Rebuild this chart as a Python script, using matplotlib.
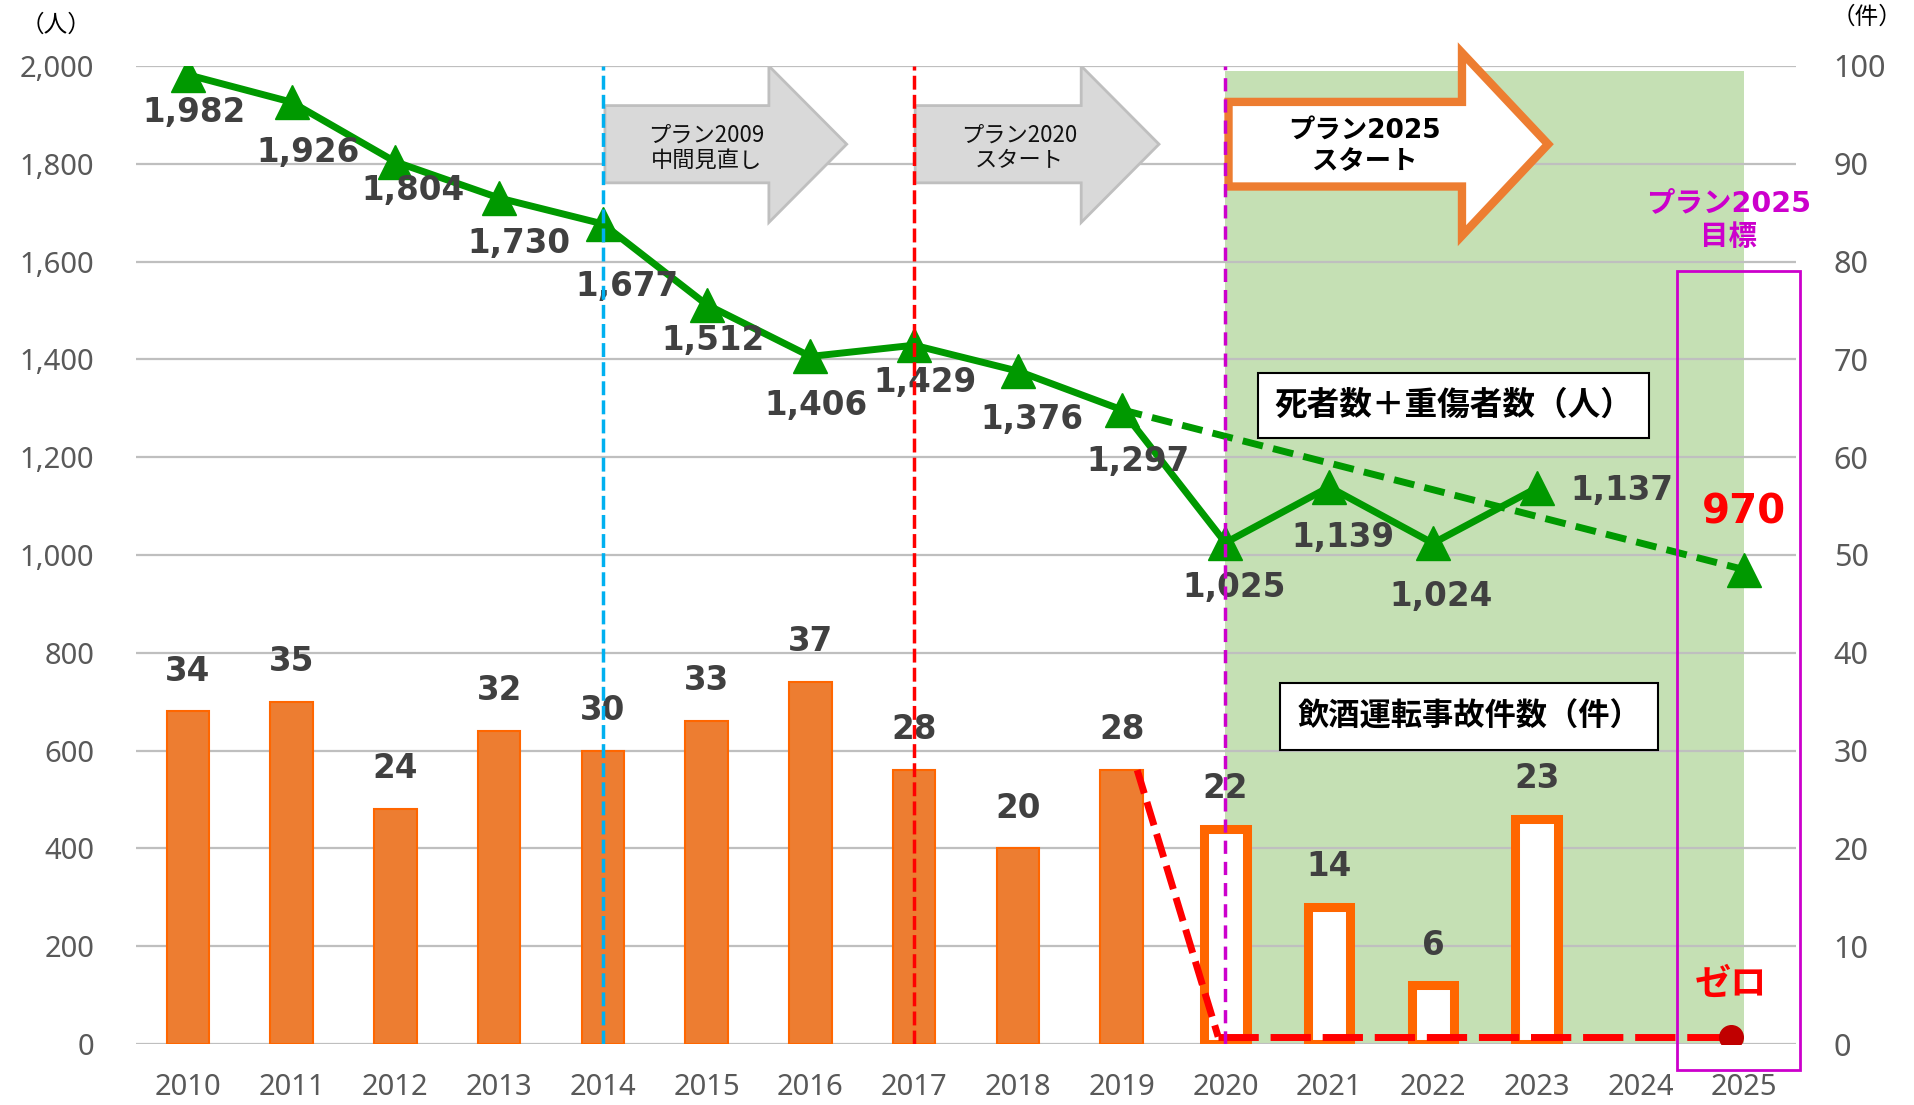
import matplotlib
matplotlib.use('Agg')
import matplotlib.pyplot as plt
from matplotlib.patches import Polygon, Rectangle
import numpy as np

plt.rcParams['font.family'] = ['Noto Sans CJK JP', 'DejaVu Sans']

# ---- data ----
years = ['2010', '2011', '2012', '2013', '2014', '2015', '2016', '2017',
         '2018', '2019', '2020', '2021', '2022', '2023', '2024', '2025']
casualties = [1982, 1926, 1804, 1730, 1677, 1512, 1406, 1429, 1376, 1297,
              1025, 1139, 1024, 1137]          # 死者数＋重傷者数 2010-2023
target_idx = 15                                  # 2025
target_value = 970
trend_x = [9, 15]                                # 2019 -> 2025 目標線
trend_y = [1297, 970]
accidents = [34, 35, 24, 32, 30, 33, 37, 28, 20, 28, 22, 14, 6, 23]  # 飲酒運転事故件数
plan2025_start = 10                              # 2020以降は白抜き
zero_drop_x = [9.15, 9.93]                       # 28件 -> ゼロ への点線
zero_drop_y = [28, 0.75]
zero_line_x = [9.93, 14.87]
zero_line_y = [0.75, 0.75]

# label offsets (points) for the casualty labels
line_label_offsets = [(4.5, -27), (12, -36), (13, -21), (14, -33), (17.6, -45),
                      (4.3, -26), (4.3, -35), (8, -27), (10, -35), (11.5, -37),
                      (6.5, -32), (10, -36), (6, -38), (61, -2)]

GREEN = '#009900'
ORANGE = '#ED7D31'
ORANGE_EDGE = '#FF6600'
LABEL = '#404040'
TICK = '#595959'
MAGENTA = '#CC00CC'

fig = plt.figure(figsize=(19.15, 11.05), dpi=100)
ax = fig.add_axes([0.0710, 0.0552, 0.8669, 0.8851])   # 件数 (右軸)
ax2 = ax.twinx()                                         # 人数 (左軸)
ax.yaxis.tick_right()
ax2.yaxis.tick_left()

x = np.arange(len(years))
ax.set_xlim(-0.5, len(years) - 0.5)
ax.set_ylim(0, 100)
ax2.set_ylim(0, 2000)

# grid
ax.set_yticks(np.arange(0, 101, 10))
ax2.set_yticks(np.arange(0, 2001, 200))
ax.grid(axis='y', color='#BFBFBF', lw=1.6, zorder=0)
ax.set_axisbelow(True)
for a in (ax, ax2):
    for s in a.spines.values():
        s.set_visible(False)

ax.set_xticks(x)
ax.set_xticklabels(years, family='Noto Sans', fontsize=21, color=TICK)
ax.tick_params(axis='x', length=0, pad=21)
ax.tick_params(axis='y', length=0, pad=27, labelsize=22, labelcolor=TICK)
ax2.tick_params(axis='y', length=0, pad=30, labelsize=21, labelcolor=TICK)
for t in ax.get_yticklabels():
    t.set_family('Noto Sans')
ax2.set_yticklabels([f'{v:,}' for v in range(0, 2001, 200)], family='Noto Sans')

# green period shading (2020-2025)
ax.add_patch(Rectangle((plan2025_start, 0), target_idx - plan2025_start, 99.5,
                       facecolor='#C5E0B4', edgecolor='none', zorder=0.5))

# bars
n = len(accidents)
filled = [i for i in range(n) if i < plan2025_start]
hollow = [i for i in range(n) if i >= plan2025_start]
ax.bar([x[i] for i in filled], [accidents[i] for i in filled], width=0.41,
       color=ORANGE, edgecolor=ORANGE_EDGE, lw=1.5, zorder=2)
ax.bar([x[i] for i in hollow], [accidents[i] for i in hollow], width=0.41,
       color='white', edgecolor=ORANGE_EDGE, lw=6.5, zorder=2)
for i, v in enumerate(accidents):
    ax.annotate(str(v), (x[i], v), xytext=(0, 29), textcoords='offset points',
                ha='center', va='center', fontsize=23.5, fontweight='bold',
                color=LABEL, family='DejaVu Sans', zorder=6)

# red zero line
ax.plot(zero_drop_x, zero_drop_y, color='#FF0000', lw=5, ls=(0, (3.5, 1.3)),
        zorder=3, solid_capstyle='butt')
ax.plot(zero_line_x, zero_line_y, color='#FF0000', lw=5, ls=(0, (5.8, 1.7)),
        zorder=3)
ax.plot([zero_line_x[-1]], [zero_line_y[-1]], 'o', color='#C00000', ms=17, zorder=4)
ax.text(14.87, 6.1, 'ゼロ', color='#FF0000', fontsize=26, fontweight='bold',
        ha='center', va='center', zorder=6)

# casualties line
ax2.plot(x[:len(casualties)], casualties, color=GREEN, lw=5, marker='^', ms=24,
         zorder=4)
ax2.plot(trend_x, trend_y, color=GREEN, lw=5, ls=(0, (3, 1.5)), zorder=4)
ax2.plot([target_idx], [target_value], '^', color=GREEN, ms=24, zorder=4)
for i, v in enumerate(casualties):
    ax2.annotate(f'{v:,}', (x[i], v), xytext=line_label_offsets[i],
                 textcoords='offset points', ha='center', va='center',
                 fontsize=23.5, fontweight='bold', color=LABEL,
                 family='DejaVu Sans', zorder=6)
ax2.annotate(f'{target_value:,}', (target_idx, target_value), xytext=(0, 41.5),
             textcoords='offset points', ha='center', va='center', fontsize=29,
             fontweight='bold', color='#FF0000', family='DejaVu Sans', zorder=6)


def arrow(x0, xh, xt, yc, body, head):
    return [(x0, yc + body), (xh, yc + body), (xh, yc + head), (xt, yc),
            (xh, yc - head), (xh, yc - body), (x0, yc - body)]


ax2.add_patch(Polygon(arrow(4.02, 5.60, 6.35, 1840, 79, 160), closed=True,
                      facecolor='#D9D9D9', edgecolor='#BFBFBF', lw=2, zorder=3))
ax2.add_patch(Polygon(arrow(7.01, 8.61, 9.36, 1840, 79, 160), closed=True,
                      facecolor='#D9D9D9', edgecolor='#BFBFBF', lw=2, zorder=3))
ax2.add_patch(Polygon(arrow(10.03, 12.28, 13.11, 1840, 86.5, 187), closed=True,
                      facecolor='white', edgecolor=ORANGE, lw=6, zorder=3,
                      clip_on=False, joinstyle='miter'))
ax2.text(5.0, 1833, 'プラン2009\n中間見直し', fontsize=16, ha='center', va='center',
         color='#111111', linespacing=1.15, zorder=5)
ax2.text(8.01, 1833, 'プラン2020\nスタート', fontsize=16, ha='center', va='center',
         color='#111111', linespacing=1.15, zorder=5)
ax2.text(11.34, 1836, 'プラン2025\nスタート', fontsize=19, fontweight='bold',
         ha='center', va='center', color='black', linespacing=1.25, zorder=5,
         family=['DejaVu Sans', 'Noto Sans CJK JP'])

# vertical plan markers
ax2.axvline(4, ymin=0, ymax=1, color='#00B0F0', lw=2.5, ls=(0, (4, 1.5)), zorder=8)
ax2.axvline(7, ymin=0, ymax=1, color='#FF0000', lw=2.5, ls=(0, (4, 1.5)), zorder=8)
ax2.axvline(10, ymin=0, ymax=1, color=MAGENTA, lw=2.5, ls=(0, (3.8, 2.3)), zorder=8)

# target box
ax2.add_patch(Rectangle((14.35, -53), 1.19, 1634, facecolor='none',
                        edgecolor=MAGENTA, lw=2, clip_on=False, zorder=7))
ax2.text(14.85, 1685, 'プラン2025\n目標', color=MAGENTA, fontsize=20.5,
         fontweight='bold', ha='center', va='center', linespacing=1.3,
         family=['DejaVu Sans', 'Noto Sans CJK JP'], zorder=7)

# series name boxes
ax2.text(12.2, 1306, '死者数＋重傷者数（人）', fontsize=23.5, fontweight='bold',
         ha='center', va='center', zorder=7,
         bbox=dict(boxstyle='square,pad=0.5', facecolor='white',
                   edgecolor='black', lw=1.5))
ax2.text(12.35, 670, '飲酒運転事故件数（件）', fontsize=22.5, fontweight='bold',
         ha='center', va='center', zorder=7,
         bbox=dict(boxstyle='square,pad=0.55', facecolor='white',
                   edgecolor='black', lw=1.5))

# unit labels
fig.text(0.0292, 0.977, '（人）', fontsize=17, ha='center', va='center')
fig.text(0.975, 0.984, '（件）', fontsize=17, ha='center', va='center')

fig.savefig('out.png', dpi=100)
